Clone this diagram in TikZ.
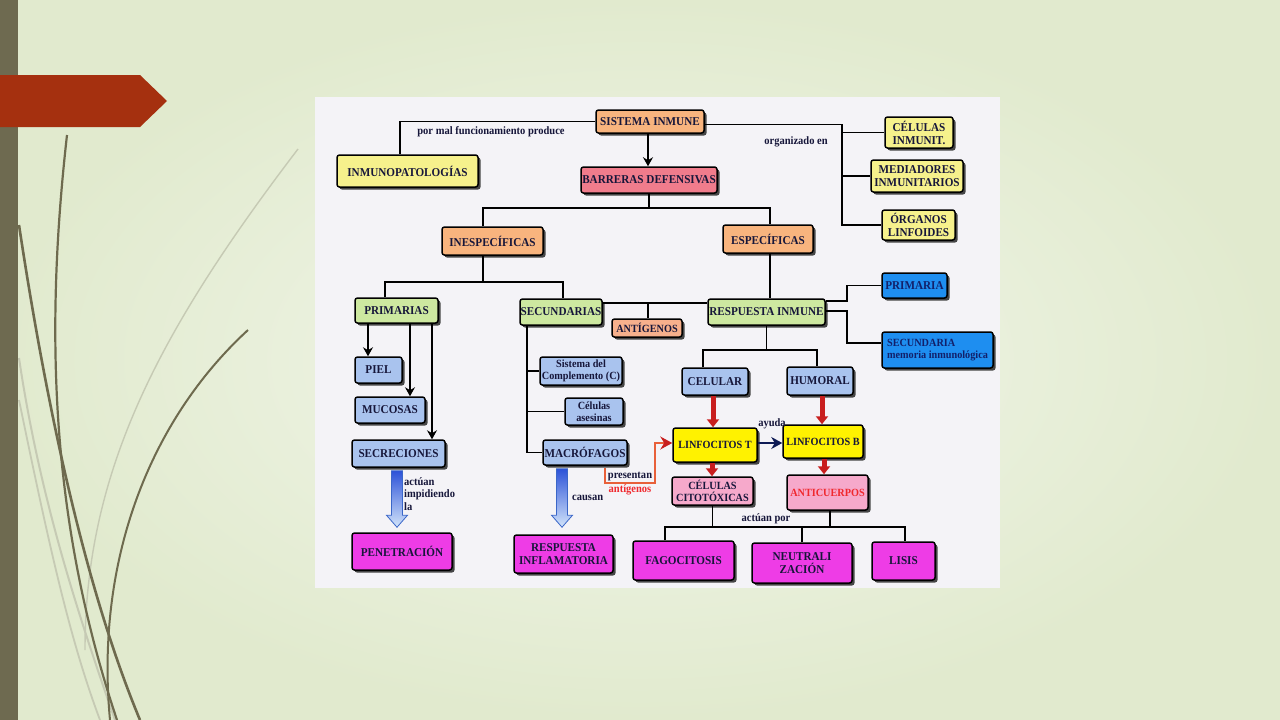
\documentclass[tikz,border=0pt]{standalone}
\usepackage{fontspec}
\setmainfont{Liberation Serif}
\newfontfamily\boxfont[FakeStretch=0.93]{Liberation Serif}
\usetikzlibrary{shadows,arrows.meta,calc}
\definecolor{bgin}{HTML}{F3F7EC}
\definecolor{bgout}{HTML}{E1EACE}
\definecolor{barc}{HTML}{6E6A50}
\definecolor{tagc}{HTML}{A5300F}
\definecolor{darkstrand}{HTML}{6E6A4E}
\definecolor{lightstrand}{HTML}{C6CAB4}
\definecolor{diagbg}{HTML}{F4F3F7}
\definecolor{cOr}{HTML}{F8B47E}
\definecolor{cPink}{HTML}{F07C8C}
\definecolor{cYel}{HTML}{F6F18C}
\definecolor{cGrn}{HTML}{CDE8A0}
\definecolor{cAnt}{HTML}{F7B08C}
\definecolor{cBlue}{HTML}{1E8EF0}
\definecolor{cLB}{HTML}{A9C3EE}
\definecolor{cLT}{HTML}{FFF200}
\definecolor{cPk2}{HTML}{F6A9CB}
\definecolor{cMag}{HTML}{EE3CE6}
\definecolor{cRed}{HTML}{F0282E}
\definecolor{cRedA}{HTML}{C81E1E}
\definecolor{cOrl}{HTML}{E8603A}
\definecolor{txt}{HTML}{16163A}
\definecolor{navy}{HTML}{12206A}
\definecolor{hollowtop}{HTML}{2C52D8}
\definecolor{hollowbot}{HTML}{D2E4FA}
\definecolor{hollowline}{HTML}{3A66C8}
\newcommand\hollowarrow[2]{\path[hollow] let \p1=(#1), \p2=(#2) in
  (\x1-5.5pt,\y1) -- (\x1+5.5pt,\y1) -- (\x1+5.5pt,\y2+12pt) -- (\x1+10.5pt,\y2+12pt)
  -- (\x1,\y2) -- (\x1-10.5pt,\y2+12pt) -- (\x1-5.5pt,\y2+12pt) -- cycle;}
\begin{document}
\begin{tikzpicture}[x=1pt,y=-1pt,
  box/.style={draw=black, line width=1.5pt, rounded corners=2.5pt, align=center,
    inner sep=0.5pt, text=txt, font=\boxfont\bfseries\fontsize{12}{13}\selectfont,
    drop shadow={shadow xshift=2.5pt, shadow yshift=-2.5pt, fill=black!80, opacity=0.9}},
  small/.style={font=\boxfont\bfseries\fontsize{11}{12.5}\selectfont},
  lab/.style={font=\boxfont\bfseries\fontsize{11.3}{12.5}\selectfont, text=txt, inner sep=0pt},
  conn/.style={line width=1.6pt, draw=black},
  chev/.style={line width=1.2pt, draw=black, -{Stealth[length=9pt,width=10pt,inset=3pt]}},
  redarr/.style={line width=5pt, draw=cRedA, -{Triangle[width=12pt,length=8pt]}},
  navyarr/.style={line width=1.4pt, draw=navy!80!black, -{Stealth[length=11pt,width=12pt,inset=3.5pt]}},
  orline/.style={line width=1.2pt, draw=cOrl, -{Stealth[length=12pt,width=13pt,inset=4pt,color=cRedA]}},
  hollow/.style={draw=hollowline, line width=0.8pt, top color=hollowtop, bottom color=hollowbot}
]
\useasboundingbox (0,0) rectangle (1280,720);
% slide background
\shade[inner color=bgin, outer color=bgout] (0,0) rectangle (1280,720);
\fill[barc] (0,0) rectangle (18,720);
\fill[tagc] (0,75) -- (140,75) -- (167,101) -- (140,127) -- (0,127) -- cycle;
% strands
\draw[lightstrand, line width=2pt] (19,358) .. controls (40,500) and (80,620) .. (115,720);
\draw[lightstrand, line width=1.8pt] (19,400) .. controls (50,550) and (70,640) .. (100,720);
\draw[lightstrand, line width=1.4pt] (298,149) .. controls (160,330) and (85,470) .. (85,650);
\draw[darkstrand, line width=2.2pt] (67,135) .. controls (45,330) and (50,520) .. (117,720);
\draw[darkstrand, line width=2.6pt] (19,225) .. controls (50,430) and (90,600) .. (140,720);
\draw[darkstrand, line width=2pt] (248,330) .. controls (150,420) and (95,560) .. (110,720);
% diagram background
\fill[diagbg] (315,97) rectangle (1000,588);

% boxes
\node[box,fill=cOr,minimum width=108pt,minimum height=23pt] (sis) at (650,121.5) {SISTEMA INMUNE};
\node[box,fill=cYel,minimum width=141pt,minimum height=32pt] (inm) at (407.5,171) {INMUNOPATOLOGÍAS};
\node[box,fill=cPink,minimum width=136pt,minimum height=26pt] (bar) at (649,180) {BARRERAS DEFENSIVAS};
\node[box,fill=cYel,minimum width=68pt,minimum height=31pt] (celi) at (919,132.5) {CÉLULAS\\INMUNIT.};
\node[box,fill=cYel,minimum width=92pt,minimum height=32pt] (med) at (917,176) {MEDIADORES\\INMUNITARIOS};
\node[box,fill=cYel,minimum width=73pt,minimum height=30pt] (org) at (918.5,225) {ÓRGANOS\\LINFOIDES};
\node[box,fill=cOr,minimum width=101pt,minimum height=28pt] (ines) at (492.5,241) {INESPECÍFICAS};
\node[box,fill=cOr,minimum width=90pt,minimum height=28pt] (esp) at (768,239) {ESPECÍFICAS};
\node[box,fill=cGrn,minimum width=83pt,minimum height=25pt] (prim) at (396.5,310.5) {PRIMARIAS};
\node[box,fill=cGrn,minimum width=82pt,minimum height=26pt] (sec) at (561,312) {SECUNDARIAS};
\node[box,fill=cAnt,minimum width=70pt,minimum height=18pt,small] (ant) at (647,328) {ANTÍGENOS};
\node[box,fill=cGrn,minimum width=117pt,minimum height=26pt] (resp) at (766.5,312) {RESPUESTA INMUNE};
\node[box,fill=cBlue,text=navy,minimum width=65pt,minimum height=25pt] (prima) at (914.5,285.5) {PRIMARIA};
\node[box,fill=cBlue,text=navy,minimum width=111pt,minimum height=36pt,align=left,small] (secu) at (937.5,350) {SECUNDARIA\\memoria inmunológica};
\node[box,fill=cLB,minimum width=47pt,minimum height=26pt] (piel) at (378.5,370) {PIEL};
\node[box,fill=cLB,minimum width=70pt,minimum height=26pt] (muc) at (390,410) {MUCOSAS};
\node[box,fill=cLB,minimum width=93pt,minimum height=27pt] (secr) at (398.5,453.5) {SECRECIONES};
\node[box,fill=cLB,minimum width=82pt,minimum height=28pt,small] (sc) at (581,371) {Sistema del\\Complemento (C)};
\node[box,fill=cLB,minimum width=58pt,minimum height=27pt,small] (ases) at (594,411.5) {Células\\asesinas};
\node[box,fill=cLB,minimum width=84pt,minimum height=25pt] (mac) at (585,452.5) {MACRÓFAGOS};
\node[box,fill=cLB,minimum width=66pt,minimum height=27pt] (celu) at (715,381.5) {CELULAR};
\node[box,fill=cLB,minimum width=66pt,minimum height=28pt] (hum) at (820,381) {HUMORAL};
\node[box,fill=cLT,minimum width=84pt,minimum height=34pt,small] (lt) at (715,445) {LINFOCITOS T};
\node[box,fill=cLT,minimum width=80pt,minimum height=33pt,small] (lb) at (823,441.5) {LINFOCITOS B};
\node[box,fill=cPk2,minimum width=81pt,minimum height=28pt,small] (cc) at (712.5,491) {CÉLULAS\\CITOTÓXICAS};
\node[box,fill=cPk2,text=cRed,minimum width=81pt,minimum height=35pt,small] (ac) at (827.5,492.5) {ANTICUERPOS};
\node[box,fill=cMag,minimum width=101pt,minimum height=39pt] (fag) at (683.5,560.5) {FAGOCITOSIS};
\node[box,fill=cMag,minimum width=100pt,minimum height=40pt] (neu) at (802,563) {NEUTRALI\\ZACIÓN};
\node[box,fill=cMag,minimum width=63pt,minimum height=38pt] (lis) at (903.5,561) {LISIS};
\node[box,fill=cMag,minimum width=100pt,minimum height=37pt] (pen) at (402,551.5) {PENETRACIÓN};
\node[box,fill=cMag,minimum width=99pt,minimum height=38pt] (infl) at (563.5,554) {RESPUESTA\\INFLAMATORIA};

% connectors
\draw[conn] (sis.west) -| ([xshift=-7.5pt]inm.north);
\node[lab] (l1) at (491,132) {por mal funcionamiento produce};
\draw[chev, line width=1.6pt] ([xshift=-2pt]sis.south) -- ([xshift=-2pt]sis.south |- bar.north);
\coordinate (jx) at (842,0);
\draw[conn] ([yshift=-3pt]sis.east) -- ([yshift=-3pt]sis.east -| jx) |- (org.west);
\draw[conn] (celi.west -| jx) -- (celi.west);
\draw[conn] (med.west -| jx) -- (med.west);
\node[lab] (l2) at (796,142) {organizado en};
\coordinate (h1) at (649,208);
\draw[conn] (bar.south) -- (h1);
\draw[conn] ([xshift=-9.5pt]ines.north) |- (h1) -| ([xshift=2pt]esp.north);
\coordinate (h2) at (483,282);
\draw[conn] ([xshift=-9.5pt]ines.south) -- (h2);
\draw[conn] ([xshift=-11.5pt]prim.north) |- (h2) -| ([xshift=2pt]sec.north);
\draw[conn] ([xshift=2pt]esp.south) -- ([xshift=2pt]esp.south |- resp.north);
\coordinate (h3) at (648,303);
\draw[conn] ([yshift=9pt]sec.east) -- (h3 -| resp.west);
\draw[conn] (h3) -- (h3 |- ant.north);
\coordinate (v1) at (847,0);
\draw[conn] ([yshift=11pt]resp.east) -- ([yshift=11pt]resp.east -| v1) |- (prima.west);
\draw[conn] ([yshift=1pt]resp.east) -- ([yshift=1pt]resp.east -| v1) |- ([yshift=7pt]secu.west);
\coordinate (h4) at (766.5,350);
\draw[conn] (resp.south) -- (h4);
\draw[conn] ([xshift=-12pt]celu.north) |- (h4) -| ([xshift=-3pt]hum.north);
\draw[redarr] ([xshift=-2pt]celu.south) -- ([xshift=-2pt]celu.south |- lt.north);
\draw[redarr] ([xshift=2pt]hum.south) -- ([xshift=2pt]hum.south |- lb.north);
\draw[redarr] ([xshift=-3pt]lt.south) -- ([xshift=-3pt]lt.south |- cc.north);
\draw[redarr] ([xshift=1pt]lb.south) -- ([xshift=1pt]lb.south |- ac.north);
\draw[navyarr] ([yshift=2pt]lt.east) -- ([yshift=2pt]lt.east -| lb.west);
\node[lab] (l3) at (772,424) {ayuda};
\coordinate (h5) at (713,527);
\draw[conn] (cc.south) -- (cc.south |- h5);
\draw[conn] ([xshift=2.5pt]ac.south) -- ([xshift=2.5pt]ac.south |- h5);
\draw[conn] ([xshift=-18.5pt]fag.north) |- (h5) -| ([xshift=1.5pt]lis.north);
\draw[conn] (neu.north) -- (neu.north |- h5);
\node[lab] (l4) at (766,519) {actúan por};
\draw[chev] ([xshift=-28.5pt]prim.south) -- ([xshift=-28.5pt]prim.south |- piel.north);
\draw[chev] ([xshift=13.5pt]prim.south) -- ([xshift=13.5pt]prim.south |- muc.north);
\draw[chev] ([xshift=35.5pt]prim.south) -- ([xshift=35.5pt]prim.south |- secr.north);
\coordinate (vx) at (527,0);
\draw[conn] (sec.south -| vx) |- (mac.west);
\draw[conn] (sc.west -| vx) -- (sc.west);
\draw[conn] (ases.west -| vx) -- (ases.west);
\hollowarrow{[xshift=-1.5pt,yshift=-3pt]secr.south}{[yshift=5pt]pen.north}
\hollowarrow{[xshift=-23pt,yshift=-3pt]mac.south}{[yshift=7pt]infl.north}
\node[lab,align=left,anchor=north west] (l5) at (404,477) {actúan\\impidiendo\\la};
\node[lab,anchor=west] (l6) at (572,498) {causan};
\coordinate (o1) at (655,483);
\draw[orline] ([xshift=20pt,yshift=-2pt]mac.south) |- (o1) |- ([yshift=2pt]lt.west);
\node[lab] (l7) at (630,477) {presentan};
\node[lab,text=cRed] (l8) at (630,490) {antígenos};
\end{tikzpicture}
\end{document}
